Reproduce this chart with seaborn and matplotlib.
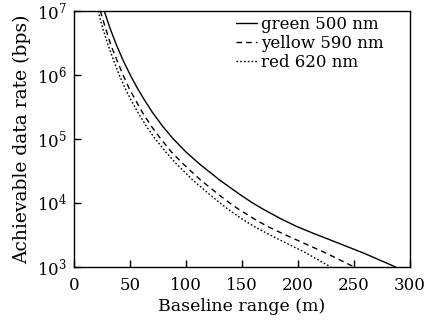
import pandas as pd
import matplotlib
matplotlib.use('Agg')
import matplotlib.pyplot as plt
import seaborn as sns

# Baseline range (m) and achievable data rate (bps)
green_x = [27, 32, 38, 44, 51, 57, 63, 70, 79, 88, 100, 112, 130, 148, 159, 169, 185, 199, 214, 229, 258, 287]
green_y = [1.0e7, 5.5e6, 2.91e6, 1.67e6, 9.4e5, 6.03e5, 4.04e5, 2.61e5, 1.59e5, 1.03e5, 6.25e4, 4.07e4,
           2.28e4, 1.36e4, 1.01e4, 7.96e3, 5.61e3, 4.27e3, 3.33e3, 2.63e3, 1.66e3, 1.0e3]
yellow_x = [23.5, 28, 33, 38.5, 44.5, 49.5, 55, 61, 69, 77, 87, 97.5, 113, 129, 138.5, 147, 161, 173, 186, 199, 224.5, 250]
yellow_y = [1.0e7, 5.5e6, 2.91e6, 1.67e6, 9.4e5, 6.03e5, 4.04e5, 2.61e5, 1.59e5, 1.03e5, 6.25e4, 4.07e4,
            2.28e4, 1.36e4, 1.01e4, 7.96e3, 5.61e3, 4.27e3, 3.33e3, 2.63e3, 1.66e3, 1.0e3]
red_x = [21.5, 25.5, 30.5, 35.5, 41, 46, 51, 57, 64.5, 72, 82, 91.5, 106, 121, 130, 137.5, 150, 161, 172.5, 184, 207, 229]
red_y = [1.0e7, 5.5e6, 2.91e6, 1.67e6, 9.4e5, 6.03e5, 4.04e5, 2.61e5, 1.59e5, 1.03e5, 6.25e4, 4.07e4,
         2.28e4, 1.36e4, 1.01e4, 7.96e3, 5.61e3, 4.27e3, 3.33e3, 2.63e3, 1.66e3, 1.0e3]
labels = ['green 500 nm', 'yellow 590 nm', 'red 620 nm']
x_ticks = [0, 50, 100, 150, 200, 250, 300]

sns.set_theme(style='ticks')
plt.rcParams['font.family'] = ['DejaVu Serif']
plt.rcParams['mathtext.fontset'] = 'dejavuserif'
plt.rcParams['axes.linewidth'] = 1.0
plt.rcParams['text.color'] = 'black'
plt.rcParams['axes.labelcolor'] = 'black'

fig = plt.figure(figsize=(4.25, 3.22), dpi=100)
ax = fig.add_axes([0.174, 0.171, 0.791, 0.795])

# one line per wavelength, black with different dash styles
series = [(green_x, green_y, '-'), (yellow_x, yellow_y, (0, (4, 3))), (red_x, red_y, (0, (1.2, 1.5)))]
for (xs, ys, ls), lab in zip(series, labels):
    df = pd.DataFrame({'x': xs, 'y': ys})
    sns.lineplot(data=df, x='x', y='y', ax=ax, color='black', linewidth=1.0,
                 linestyle=ls, label=lab)

ax.set_yscale('log')
ax.set_xlim(0, 300)
ax.set_ylim(1e3, 1e7)
ax.set_xticks(x_ticks)
ax.minorticks_off()
ax.tick_params(direction='in', length=5, width=1.0, labelsize=12, colors='black')
ax.tick_params(axis='x', pad=7)
ax.tick_params(axis='y', pad=5)
for s in ax.spines.values():
    s.set_color('black')
ax.set_xlabel('Baseline range (m)', fontsize=12.5, labelpad=3)
ax.set_ylabel('Achievable data rate (bps)', fontsize=13.5, labelpad=4)

leg = ax.legend(loc='upper right', frameon=False, fontsize=12, handlelength=1.3,
                handletextpad=0.2, labelspacing=0.1, borderaxespad=0.3,
                bbox_to_anchor=(0.955, 1.025))

fig.savefig('out.png', dpi=100)
